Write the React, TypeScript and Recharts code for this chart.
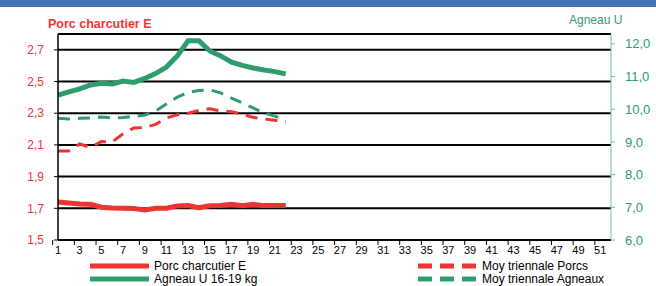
import React from "react";
import { LineChart, Line, XAxis, YAxis, CartesianGrid } from "recharts";

const weeks = [
  1, 2, 3, 4, 5, 6, 7, 8, 9, 10, 11, 12, 13, 14, 15, 16, 17, 18, 19, 20, 21, 22, 23, 24, 25, 26,
  27, 28, 29, 30, 31, 32, 33, 34, 35, 36, 37, 38, 39, 40, 41, 42, 43, 44, 45, 46, 47, 48, 49, 50, 51, 52,
];

// €/kg, weeks 1-22
const porc = [
  1.74, 1.734, 1.727, 1.725, 1.707, 1.702, 1.7, 1.699, 1.69, 1.7, 1.7, 1.715, 1.717, 1.704, 1.716,
  1.718, 1.725, 1.717, 1.725, 1.717, 1.717, 1.717,
];
const agneau = [
  10.43, 10.53, 10.62, 10.74, 10.79, 10.77, 10.86, 10.82, 10.94, 11.09, 11.29, 11.63, 12.09, 12.09,
  11.78, 11.63, 11.44, 11.34, 11.26, 11.2, 11.15, 11.08,
];
const moyPorcs = [
  2.062, 2.062, 2.106, 2.084, 2.121, 2.119, 2.17, 2.207, 2.21, 2.23, 2.27, 2.29, 2.3, 2.318, 2.328,
  2.315, 2.31, 2.293, 2.274, 2.264, 2.255, 2.245,
];
const moyAgneaux = [
  9.72, 9.7, 9.72, 9.73, 9.76, 9.73, 9.75, 9.78, 9.82, 9.94, 10.16, 10.37, 10.51, 10.57, 10.59, 10.5,
  10.34, 10.19, 10.04, 9.88, 9.79, 9.65,
];

const porcTicks = [1.5, 1.7, 1.9, 2.1, 2.3, 2.5, 2.7];
const agneauTicks = [6, 7, 8, 9, 10, 11, 12];

const data = weeks.map((w, i) => ({
  week: w,
  porc: porc[i] ?? null,
  agneau: agneau[i] ?? null,
  moyPorcs: moyPorcs[i] ?? null,
  moyAgneaux: moyAgneaux[i] ?? null,
}));

const RED = "#ee3333";
const GREEN = "#2e9c6b";
const GREEN_AXIS = "#6cc49a";
const FONT = '"Liberation Sans", Arial, sans-serif';
const BAND = 553 / 52;

const comma = (v: number) => v.toFixed(1).replace(".", ",");

const XTick = (props: any) => {
  const { x, y, payload } = props;
  const bx = x - BAND / 2;
  return (
    <g>
      <line x1={bx} x2={bx} y1={y} y2={y + 5} stroke="#000" />
      <text x={x} y={y + 14} textAnchor="middle" fontSize={11} fill="#000" fontFamily={FONT}>
        {payload.value}
      </text>
    </g>
  );
};

const LegendItem = ({ x, y, color, dashed, label }: any) => (
  <div style={{ position: "absolute", left: x, top: y - 6, height: 12, display: "flex", alignItems: "center" }}>
    <svg width={62} height={8}>
      <line
        x1={1}
        x2={60}
        y1={4}
        y2={4}
        stroke={color}
        strokeWidth={5}
        strokeDasharray={dashed ? "14 8" : undefined}
      />
    </svg>
    <span style={{ fontSize: 12, lineHeight: "12px", marginLeft: 3, color: "#000", whiteSpace: "nowrap" }}>
      {label}
    </span>
  </div>
);

export default function App() {
  return (
    <div
      style={{
        position: "absolute",
        left: 0,
        top: 0,
        width: 656,
        height: 286,
        background: "#fff",
        overflow: "hidden",
        fontFamily: FONT,
      }}
    >
      <div style={{ position: "absolute", left: 0, top: 0, width: 656, height: 7, background: "#4672b8" }} />
      <div style={{ position: "absolute", left: 48, top: 17, fontSize: 12.5, fontWeight: "bold", color: RED }}>
        Porc charcutier E
      </div>
      <div style={{ position: "absolute", left: 569, top: 13, fontSize: 12, color: GREEN }}>Agneau U</div>

      <LineChart width={656} height={286} data={data} margin={{ top: 34, right: 0, left: 0, bottom: 0 }}>
        <CartesianGrid yAxisId="porc" vertical={false} stroke="#000" strokeWidth={2} />
        <XAxis
          dataKey="week"
          height={46}
          interval={1}
          tickLine={false}
          tickSize={0}
          tickMargin={0}
          axisLine={{ stroke: "#000", strokeWidth: 2 }}
          tick={<XTick />}
        />
        <YAxis
          yAxisId="porc"
          width={58}
          domain={[1.5, 2.8]}
          ticks={porcTicks}
          allowDataOverflow
          tickFormatter={comma}
          tickSize={4}
          tickMargin={10}
          axisLine={{ stroke: "#000", strokeWidth: 1.5 }}
          tickLine={{ stroke: "#000" }}
          tick={{ fill: RED, fontSize: 12, fontFamily: FONT }}
        />
        <YAxis
          yAxisId="agneau"
          orientation="right"
          width={45}
          domain={[6, 12.3]}
          ticks={agneauTicks}
          allowDataOverflow
          tickFormatter={comma}
          tickSize={4}
          tickMargin={10}
          axisLine={{ stroke: GREEN_AXIS }}
          tickLine={{ stroke: GREEN_AXIS }}
          tick={{ fill: GREEN, fontSize: 13, fontFamily: FONT, textAnchor: "start" }}
        />
        <Line
          yAxisId="agneau"
          dataKey="moyAgneaux"
          stroke={GREEN}
          strokeWidth={3}
          strokeDasharray="12 8"
          dot={false}
          isAnimationActive={false}
        />
        <Line
          yAxisId="porc"
          dataKey="moyPorcs"
          stroke={RED}
          strokeWidth={3}
          strokeDasharray="12 8"
          dot={false}
          isAnimationActive={false}
        />
        <Line yAxisId="agneau" dataKey="agneau" stroke={GREEN} strokeWidth={5} dot={false} isAnimationActive={false} />
        <Line yAxisId="porc" dataKey="porc" stroke={RED} strokeWidth={5} dot={false} isAnimationActive={false} />
      </LineChart>

      <LegendItem x={89} y={266} color={RED} label="Porc charcutier E" />
      <LegendItem x={89} y={279} color={GREEN} label="Agneau U 16-19 kg" />
      <LegendItem x={417} y={266} color={RED} dashed label="Moy triennale Porcs" />
      <LegendItem x={417} y={279} color={GREEN} dashed label="Moy triennale Agneaux" />
    </div>
  );
}
